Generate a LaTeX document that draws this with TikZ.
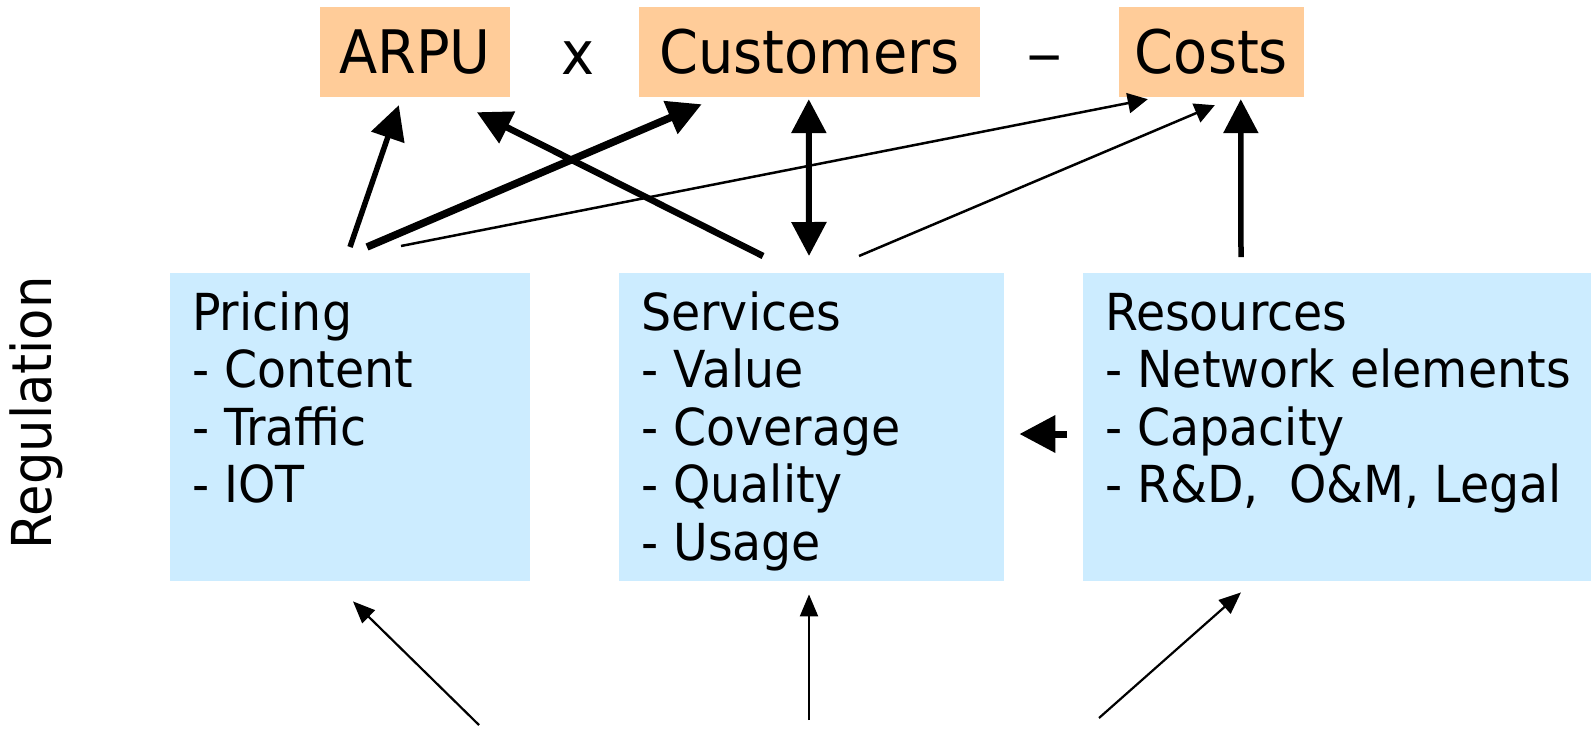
\documentclass[tikz,border=0pt]{standalone}
\usepackage{fontspec}
\setmainfont{DejaVu Sans}[FakeStretch=0.93]
\usetikzlibrary{arrows.meta,calc}
\definecolor{peach}{HTML}{FFCC99}
\definecolor{paleblue}{HTML}{CCECFF}
% block text: fixed-size box, first baseline 57pt below the top edge
\newcommand{\blocktext}[2]{\parbox[t][308pt][t]{#1}{\fontsize{51}{57.5}\selectfont\raggedright\leftskip=22pt\rule{0pt}{57pt}#2}}
\begin{document}
\begin{tikzpicture}[x=1pt,y=-1pt,
  termbox/.style={fill=peach,inner sep=0pt,minimum height=90pt,font=\fontsize{60}{60}\selectfont},
  op/.style={inner sep=0pt,anchor=base,font=\fontsize{60}{60}\selectfont},
  block/.style={fill=paleblue,inner sep=0pt,anchor=north west},
  bold/.style={-{Triangle[length=34pt,width=34pt]}},
  thin/.style={line width=2.5pt,-{Triangle[length=20pt,width=20pt]}},
  input/.style={line width=2.2pt,-{Triangle[length=22pt,width=18pt]}}]
\useasboundingbox (0,0) rectangle (1591,729);

% revenue / cost equation
\node[termbox,minimum width=190pt] (arpu) at (415,52) {ARPU};
\node[op] (times) at (578,74) {x};
\node[termbox,minimum width=341pt] (cust) at (809.5,52) {Customers};
\node[op] (minus) at (1045,74) {\scalebox{1.3}[1]{–}};
\node[termbox,minimum width=185pt] (costs) at (1211.5,52) {Costs};

% driver blocks
\node[block] (pricing) at (170,273) {\blocktext{360pt}{Pricing\\- Content\\- Traffic\\- IOT}};
\node[block] (services) at (619,273) {\blocktext{385pt}{Services\\- Value\\- Coverage\\- Quality\\- Usage}};
\node[block] (resources) at (1083,273) {\blocktext{508pt}{Resources\\- Network elements\\- Capacity\\- R\&D,\ \ O\&M, Legal}};

% regulation side label
\node[rotate=90,inner sep=0pt,font=\fontsize{55}{55}\selectfont] (regulation) at (36,413) {Regulation};

% influences on the equation
\draw[bold,line width=5.5pt] ($(pricing.north west)+(180,-26)$) -- ($(arpu.south west)+(79,8)$);
\draw[bold,line width=7.5pt] ($(pricing.north west)+(197,-26)$) -- ($(cust.south west)+(63,7)$);
\draw[thin] ($(pricing.north west)+(231,-27)$) -- ($(costs.south west)+(29,2)$);
\draw[bold,line width=6.5pt] ($(services.north west)+(144,-17)$) -- ($(arpu.south west)+(157,15)$);
\draw[line width=6pt,{Triangle[length=34pt,width=34pt]}-{Triangle[length=34pt,width=34pt]}]
  ($(services.north west)+(190,-17)$) -- ($(cust.south west)+(170,2)$);
\draw[thin] ($(services.north west)+(240,-17)$) -- ($(costs.south west)+(96,8)$);
\draw[bold,line width=5.5pt] ($(resources.north west)+(158,-16)$) -- ($(costs.south west)+(122,2)$);
\draw[line width=7pt,-{Triangle[length=36pt,width=36pt]}] ($(resources.north west)+(-16,161)$) -- ($(services.north east)+(15,161)$);

% regulation inputs from below
\coordinate (in1) at (479,725);
\coordinate (in2) at (809,720);
\coordinate (in3) at (1099,718);
\draw[input] (in1) -- ($(pricing.south west)+(183,20)$);
\draw[input] (in2) -- ($(services.south west)+(190,13)$);
\draw[input] (in3) -- ($(resources.south west)+(158,11)$);
\end{tikzpicture}
\end{document}
